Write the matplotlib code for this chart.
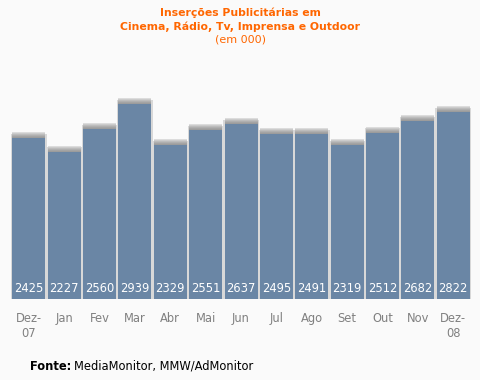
import matplotlib
matplotlib.use("Agg")
import matplotlib.pyplot as plt

categories = ["Dez-\n07", "Jan", "Fev", "Mar", "Abr", "Mai", "Jun", "Jul", "Ago", "Set", "Out", "Nov", "Dez-\n08"]
values = [2425, 2227, 2560, 2939, 2329, 2551, 2637, 2495, 2491, 2319, 2512, 2682, 2822]

W, H = 481, 380
fig = plt.figure(figsize=(W / 100, H / 100), dpi=100, facecolor="#fafafa")
ax_bottom_px = 299
ax_top_px = 60
ax = fig.add_axes([0, (H - ax_bottom_px) / H, 1, (ax_bottom_px - ax_top_px) / H])
ax.set_facecolor("#fafafa")

step = 35.37
x0 = 28.8
ax.set_xlim(-x0 / step, (W - x0) / step)
units_per_px = 15.1
ax.set_ylim(0, (ax_bottom_px - ax_top_px) * units_per_px)

xs = list(range(len(values)))
bw = 33 / step
cap = 6 * units_per_px

# light side shadow
ax.bar(xs, [v + cap * 0.7 for v in values], width=bw + 2.5 / step, color="#d8d8d8", zorder=1, linewidth=0)
# gray cap gradient (light at top, dark near the bar)
shades = ["#9c9c9c", "#a4a4a4", "#afafaf", "#bcbcbc", "#cbcbcb", "#dcdcdc"]
n = len(shades)
for k, c in enumerate(shades):
    ax.bar(xs, [cap / n] * len(values), bottom=[v + cap * k / n for v in values],
           width=bw, color=c, zorder=2, linewidth=0)
ax.bar(xs, values, width=bw, color="#6a86a5", zorder=3, linewidth=0)

for x, v in zip(xs, values):
    ax.annotate(str(v), (x, 0), xytext=(0, 7.2), textcoords="offset points",
                ha="center", va="center", color="white", fontsize=8.3, zorder=4)

ax.set_xticks(xs)
ax.set_xticklabels(categories, color="#808080", fontsize=8.3, linespacing=1.2)
ax.tick_params(axis="x", length=0, pad=9.5)
ax.set_yticks([])
for s in ax.spines.values():
    s.set_visible(False)

fig.text(0.5, 1 - 13 / H, "Inserções Publicitárias em", ha="center", va="center",
         color="#ff6600", fontsize=7.8, fontweight="bold")
fig.text(0.5, 1 - 26.5 / H, "Cinema, Rádio, Tv, Imprensa e Outdoor", ha="center", va="center",
         color="#ff6600", fontsize=7.8, fontweight="bold")
fig.text(0.5, 1 - 40 / H, "(em 000)", ha="center", va="center",
         color="#ff6600", fontsize=8.0)

fig.text(30 / W, 1 - 366 / H, "Fonte:", ha="left", va="center", color="black",
         fontsize=8.3, fontweight="bold")
fig.text(74 / W, 1 - 366 / H, "MediaMonitor, MMW/AdMonitor", ha="left", va="center",
         color="black", fontsize=8.3)

fig.savefig("out.png", dpi=100, facecolor="#fafafa")
